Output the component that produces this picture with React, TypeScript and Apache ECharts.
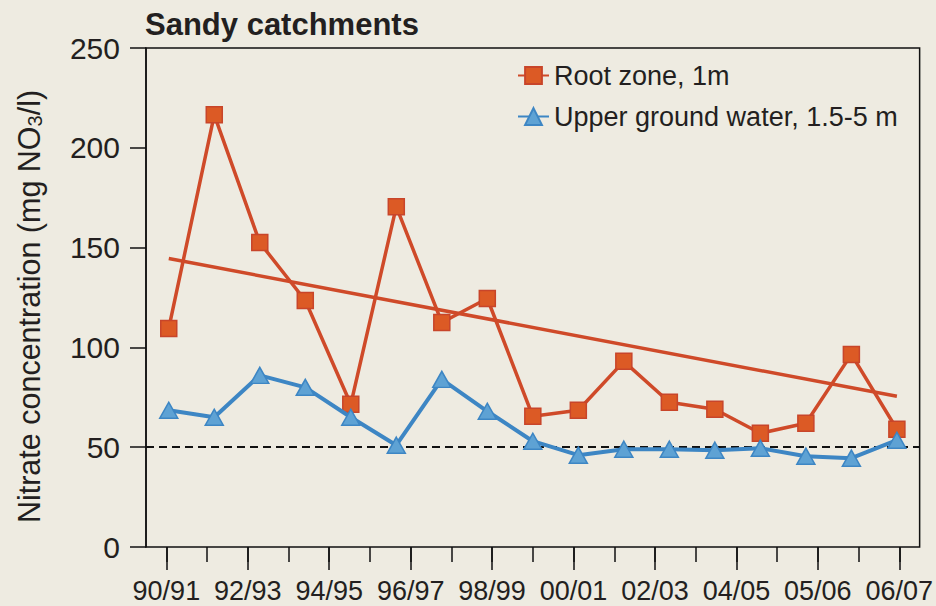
import React, { useEffect, useRef } from 'react';
import * as echarts from 'echarts';

const seasons = ['90/91', '91/92', '92/93', '93/94', '94/95', '95/96', '96/97', '97/98', '98/99', '99/00', '00/01', '01/02', '02/03', '03/04', '04/05', '05/06', '06/07'];
const rootZone = [109.5, 216.5, 152.5, 123.5, 71.5, 170.5, 112.5, 124.5, 65.5, 68.5, 93, 72.5, 69, 57, 62, 96.5, 59];
const upperGroundWater = [68.5, 65, 86, 80, 65, 51, 84, 68, 53, 46, 49, 49, 48.5, 49.5, 45.5, 44.5, 53.5];
const trendStart = 144.5;
const trendEnd = 75.5;
const threshold = 50;
const tickLabels = ['90/91', '', '92/93', '', '94/95', '', '96/97', '', '98/99', '', '00/01', '', '02/03', '', '04/05', '', '05/06', '', '06/07'];
const seriesNames = ['Root zone, 1m', 'Upper ground water, 1.5-5 m'];

const FONT = '"Liberation Sans", Arial, Helvetica, sans-serif';
const INK = '#231f20';
const BG = '#eeebe1';
const ORANGE_LINE = '#cf4a29';
const ORANGE_FILL = '#dc5a25';
const BLUE_LINE = '#3d86c4';
const BLUE_FILL = '#5ea2d4';

export default function App() {
  const ref = useRef<HTMLDivElement>(null);
  useEffect(() => {
    if (!ref.current) return;
    const chart = echarts.init(ref.current, undefined, { renderer: 'svg' });
    chart.setOption({
      animation: false,
      backgroundColor: BG,
      title: {
        text: 'Sandy catchments',
        left: 140,
        top: 4,
        textStyle: { fontFamily: FONT, fontSize: 31, fontWeight: 'bold', color: INK },
      },
      legend: {
        data: seriesNames,
        orient: 'vertical',
        left: 512,
        top: 57,
        itemWidth: 31,
        itemHeight: 21,
        itemGap: 14,
        textStyle: { fontFamily: FONT, fontSize: 27, color: INK },
      },
      grid: {
        left: 146,
        right: 14,
        top: 48,
        bottom: 59,
        show: true,
        borderColor: '#111',
        borderWidth: 1.5,
        backgroundColor: 'transparent',
      },
      xAxis: [
        {
          type: 'category',
          position: 'bottom',
          data: tickLabels,
          boundaryGap: true,
          axisLine: { show: false },
          axisTick: { show: true, alignWithLabel: true, interval: 0, length: 15, lineStyle: { color: '#111', width: 1.5 } },
          axisLabel: { show: false },
        },
        {
          type: 'category',
          position: 'bottom',
          data: tickLabels,
          boundaryGap: true,
          axisLine: { show: false },
          axisTick: { show: true, alignWithLabel: true, interval: 1, length: 23, lineStyle: { color: '#111', width: 1.5 } },
          axisLabel: { show: true, interval: 1, margin: 30, fontFamily: FONT, fontSize: 27, color: INK },
        },
        {
          type: 'category',
          position: 'bottom',
          data: seasons,
          boundaryGap: true,
          show: false,
        },
      ],
      yAxis: {
        type: 'value',
        min: 0,
        max: 250,
        interval: 50,
        axisLine: { show: true, lineStyle: { color: '#111', width: 1.5 } },
        axisTick: { show: true, length: 16, lineStyle: { color: '#111', width: 1.5 } },
        splitLine: { show: false },
        axisLabel: { margin: 26, fontFamily: FONT, fontSize: 30, color: INK },
        name: '{a|Nitrate concentration (mg NO}{b|3}{a|/l)}',
        nameLocation: 'middle',
        nameRotate: 90,
        nameGap: 101,
        nameTextStyle: {
          fontFamily: FONT,
          color: INK,
          padding: [0, 18, 0, 0],
          rich: {
            a: { fontFamily: FONT, fontSize: 30.5, lineHeight: 33, color: INK },
            b: { fontFamily: FONT, fontSize: 20, lineHeight: 18, verticalAlign: 'bottom', color: INK },
          },
        },
      },
      series: [
        {
          name: 'trend',
          type: 'line',
          xAxisIndex: 2,
          data: [[0, trendStart], [seasons.length - 1, trendEnd]],
          symbol: 'none',
          lineStyle: { color: ORANGE_LINE, width: 3.5 },
          z: 2,
          markLine: {
            silent: true,
            symbol: ['none', 'none'],
            z: 1,
            label: { show: false },
            lineStyle: { color: '#111', type: [8, 5], width: 2 },
            data: [{ yAxis: threshold }],
          },
        },
        {
          name: seriesNames[0],
          type: 'line',
          xAxisIndex: 2,
          data: rootZone,
          symbol: 'rect',
          symbolSize: 16,
          lineStyle: { color: ORANGE_LINE, width: 3.5 },
          itemStyle: { color: ORANGE_FILL, borderColor: '#c8452a', borderWidth: 1.5 },
          z: 3,
        },
        {
          name: seriesNames[1],
          type: 'line',
          xAxisIndex: 2,
          data: upperGroundWater,
          symbol: 'triangle',
          symbolSize: [18, 16],
          lineStyle: { color: BLUE_LINE, width: 4 },
          itemStyle: { color: BLUE_FILL, borderColor: BLUE_LINE, borderWidth: 1.5 },
          z: 4,
        },
      ],
    });
    return () => chart.dispose();
  }, []);
  return (
    <div
      ref={ref}
      style={{ position: 'fixed', left: 0, top: 0, width: 936, height: 606 }}
    />
  );
}
